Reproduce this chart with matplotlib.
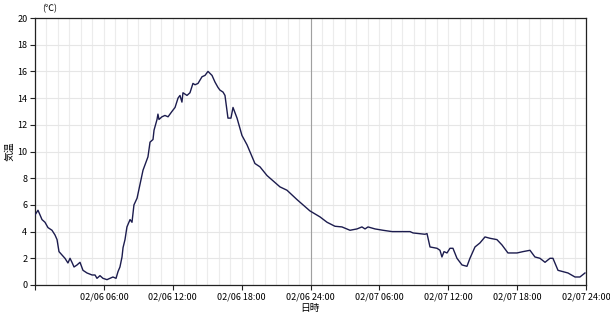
import matplotlib
matplotlib.use("Agg")
import matplotlib.pyplot as plt
from matplotlib.ticker import MultipleLocator

plt.rcParams['font.family'] = ['Noto Sans CJK JP', 'DejaVu Sans']

hours = [0.0, 0.26, 0.61, 0.87, 1.13, 1.48, 1.74, 1.92, 2.09, 2.35, 2.61, 2.87, 3.05, 3.22,
         3.40, 3.66, 3.92, 4.18, 4.53, 4.97, 5.23, 5.40, 5.66, 5.92, 6.27, 6.53, 6.79, 7.06,
         7.23, 7.40, 7.58, 7.67, 7.84, 8.01, 8.28, 8.45, 8.62, 8.89, 9.41, 9.84, 10.02, 10.28,
         10.37, 10.63, 10.71, 10.80, 11.06, 11.32, 11.59, 11.93, 12.20, 12.46, 12.63, 12.80,
         12.89, 13.24, 13.50, 13.76, 13.94, 14.20, 14.55, 14.81, 14.98, 15.07, 15.42, 15.68,
         15.94, 16.11, 16.38, 16.55, 16.72, 16.81, 17.07, 17.25, 17.60, 18.03, 18.47, 19.16,
         19.60, 20.21, 21.34, 21.95, 22.82, 23.95, 24.83, 25.44, 26.13, 26.74, 27.44, 28.05,
         28.48, 28.75, 29.01, 29.62, 30.31, 31.10, 32.67, 32.93, 33.97, 34.15, 34.41, 35.02,
         35.28, 35.45, 35.63, 35.89, 36.15, 36.41, 36.76, 37.20, 37.63, 37.89, 38.33, 38.76,
         39.20, 39.63, 40.24, 40.68, 41.20, 41.99, 42.51, 43.12, 43.55, 43.99, 44.43, 44.86,
         45.12, 45.56, 46.00, 46.43, 47.04, 47.47, 47.91]
temps = [5.25, 5.6, 4.9, 4.7, 4.3, 4.1, 3.75, 3.4, 2.5, 2.25, 2.0, 1.65, 2.0, 1.7,
         1.35, 1.5, 1.7, 1.1, 0.9, 0.75, 0.75, 0.5, 0.7, 0.5, 0.4, 0.5, 0.6, 0.5,
         1.0, 1.35, 2.1, 2.8, 3.4, 4.35, 4.9, 4.7, 6.0, 6.5, 8.6, 9.6, 10.7, 10.9,
         11.6, 12.4, 12.8, 12.4, 12.6, 12.7, 12.6, 13.0, 13.3, 14.0, 14.2, 13.7,
         14.4, 14.2, 14.4, 15.1, 15.0, 15.1, 15.6, 15.7, 15.9, 16.0, 15.7, 15.2,
         14.8, 14.6, 14.45, 14.2, 13.1, 12.5, 12.5, 13.3, 12.5, 11.2, 10.5, 9.1,
         8.85, 8.2, 7.35, 7.1, 6.4, 5.55, 5.1, 4.7, 4.4, 4.35, 4.1, 4.2,
         4.35, 4.2, 4.35, 4.2, 4.1, 4.0, 4.0, 3.9, 3.8, 3.85, 2.85, 2.75,
         2.6, 2.1, 2.5, 2.4, 2.75, 2.75, 2.0, 1.5, 1.4, 2.0, 2.85, 3.15,
         3.6, 3.5, 3.4, 3.0, 2.4, 2.4, 2.5, 2.6, 2.1, 2.0, 1.7, 2.0,
         2.0, 1.1, 1.0, 0.9, 0.6, 0.6, 0.9]

x_ticks = [0, 6, 12, 18, 24, 30, 36, 42, 48]
x_tick_labels = ["", "02/06 06:00", "02/06 12:00", "02/06 18:00", "02/06 24:00",
                 "02/07 06:00", "02/07 12:00", "02/07 18:00", "02/07 24:00"]
y_ticks = [0, 2, 4, 6, 8, 10, 12, 14, 16, 18, 20]

fig = plt.figure(figsize=(6.1, 3.15), dpi=100)
ax = fig.add_axes([35/610, 30/315, 551/610, 267/315])

ax.set_xlim(0, 48)
ax.set_ylim(0, 20)
ax.xaxis.set_minor_locator(MultipleLocator(1))
ax.set_xticks(x_ticks)
ax.set_xticklabels(x_tick_labels)
ax.set_yticks(y_ticks)
ax.grid(which='minor', axis='x', color='#ececec', linewidth=0.8)
ax.grid(which='major', axis='x', color='#ececec', linewidth=0.8)
ax.grid(which='major', axis='y', color='#e6e6e6', linewidth=0.8)
ax.axvline(24, color='#a0a0a0', linewidth=0.8, zorder=1)
ax.set_axisbelow(True)

ax.plot(hours, temps, color='#1c1c4e', linewidth=1.0, zorder=3)

for s in ax.spines.values():
    s.set_color('#222222')
    s.set_linewidth(0.9)

ax.tick_params(axis='both', which='major', labelsize=6.5, length=3.5, width=0.8,
               color='#222222', pad=2)
ax.tick_params(axis='x', which='minor', length=0)

ax.set_xlabel("日時", fontsize=7, labelpad=1)
ax.set_ylabel("気温", fontsize=7, labelpad=2)
fig.text(50/610, 1 - 9/315, "(℃)", fontsize=6.5, ha='center', va='center')

fig.savefig("out.png", dpi=100)
